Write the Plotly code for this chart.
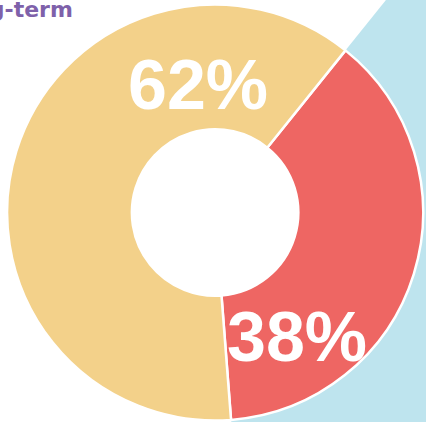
import math
import plotly.graph_objects as go

# ---- data ----
labels = ["Short-term", "Long-term"]
values = [38, 62]
colors = ["#EE6663", "#F3D18A"]
highlight_color = "#BEE4EE"
title_text = "Long-term"

W, H = 426, 422

# pie geometry (pixels)
cx, cy, r = 215.1, 212.5, 208.0
rotation = 38.8
hole = 0.40

dom_x = [(cx - r) / W, (cx + r) / W]
dom_y = [(H - cy - r) / H, (H - cy + r) / H]

fig = go.Figure()
fig.add_trace(go.Pie(
    labels=labels,
    values=values,
    sort=False,
    direction="clockwise",
    rotation=rotation,
    hole=hole,
    marker=dict(colors=colors, line=dict(color="white", width=2.5)),
    textinfo="none",
    hoverinfo="label+percent",
    showlegend=False,
    domain=dict(x=dom_x, y=dom_y),
))

# highlight wedge behind the first slice, derived from the data
total = sum(values)
a0 = rotation
a1 = rotation + 360.0 * values[0] / total
R = 520.0
pts = [(cx, cy)]
n = 8
for k in range(n + 1):
    a = math.radians(a0 + (a1 - a0) * k / n)
    pts.append((cx + R * math.sin(a), cy - R * math.cos(a)))
path = "M " + " L ".join(f"{px / W:.5f},{(H - py) / H:.5f}" for px, py in pts) + " Z"
fig.add_shape(type="path", path=path, xref="paper", yref="paper",
              fillcolor=highlight_color, line=dict(width=0), layer="below")
# white centre of the donut
ri = r * hole + 2
fig.add_shape(type="circle", xref="paper", yref="paper",
              x0=(cx - ri) / W, x1=(cx + ri) / W,
              y0=(H - cy - ri) / H, y1=(H - cy + ri) / H,
              fillcolor="white", line=dict(width=0), layer="below")

# percentage labels
label_pos = [(297, 337), (197.5, 85)]
font_family = "Liberation Sans, Arial, sans-serif"
for v, (px, py) in zip(values, label_pos):
    fig.add_annotation(
        text=f"<b>{round(100 * v / total)}%</b>",
        x=px / W, y=(H - py) / H, xref="paper", yref="paper",
        xanchor="center", yanchor="middle", showarrow=False,
        font=dict(family=font_family, size=70, color="white"),
    )

fig.add_annotation(
    text=f"<b>{title_text}</b>",
    x=75 / W, y=(H - 9) / H, xref="paper", yref="paper",
    xanchor="right", yanchor="middle", showarrow=False,
    font=dict(family="DejaVu Sans, sans-serif", size=22, color="#7E61AA"),
)

fig.update_layout(
    width=W, height=H,
    margin=dict(l=0, r=0, t=0, b=0),
    paper_bgcolor="white",
    plot_bgcolor="white",
)

fig.write_html("out.html",
               config={"displayModeBar": False},
               post_script="document.body.style.margin='0';document.body.style.overflow='hidden';")
